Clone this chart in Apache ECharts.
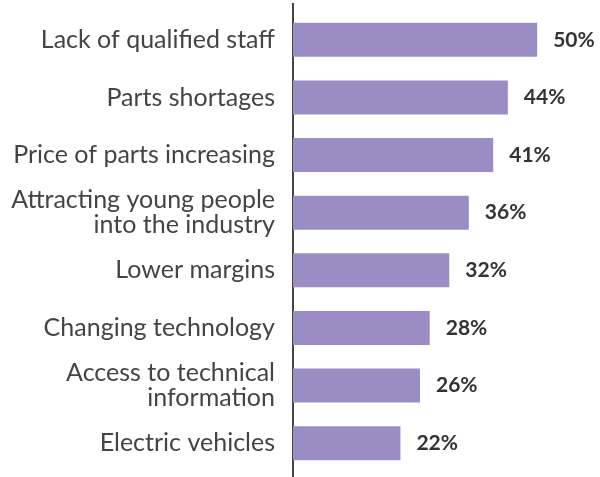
<!DOCTYPE html>
<html>
<head>
<meta charset="utf-8">
<script src="https://cdn.jsdelivr.net/npm/echarts@6/dist/echarts.min.js"></script>
<style>
    html, body { margin: 0; padding: 0; background: #fff; }
    #challenges { width: 600px; height: 477px; }
</style>
</head>
<body>
<div id="challenges"></div>
<script>
var categories = [
    'Lack of qualified staff',
    'Parts shortages',
    'Price of parts increasing',
    'Attracting young people\ninto the industry',
    'Lower margins',
    'Changing technology',
    'Access to technical\ninformation',
    'Electric vehicles'
];
var percentValues = [50, 44, 41, 36, 32, 28, 26, 22];

var chart = echarts.init(document.getElementById('challenges'));
var option = {
    animation: false,
    grid: {
        top: 11,
        bottom: 5,
        left: 293,
        right: 14
    },
    xAxis: {
        type: 'value',
        min: 0,
        max: 60,
        show: false
    },
    yAxis: {
        type: 'category',
        inverse: true,
        data: categories,
        axisTick: { show: false },
        // axis line drawn as graphic below so it runs the full height
        axisLine: { show: false },
        axisLabel: {
            margin: 18,
            align: 'right',
            color: '#444444',
            fontFamily: 'Lato',
            fontSize: 25,
            lineHeight: 25
        }
    },
    series: [
        {
            type: 'bar',
            data: percentValues,
            barWidth: 34,
            itemStyle: {
                color: '#9a8dc4'
            },
            label: {
                show: true,
                position: 'right',
                distance: 16,
                formatter: '{c}%',
                color: '#333333',
                fontFamily: 'Lato',
                fontWeight: 'bold',
                fontSize: 21
            }
        }
    ],
    graphic: [
        {
            type: 'line',
            shape: { x1: 293, y1: 3, x2: 293, y2: 477 },
            style: { stroke: '#454545', lineWidth: 2 }
        }
    ]
};
chart.setOption(option);
</script>
</body>
</html>
